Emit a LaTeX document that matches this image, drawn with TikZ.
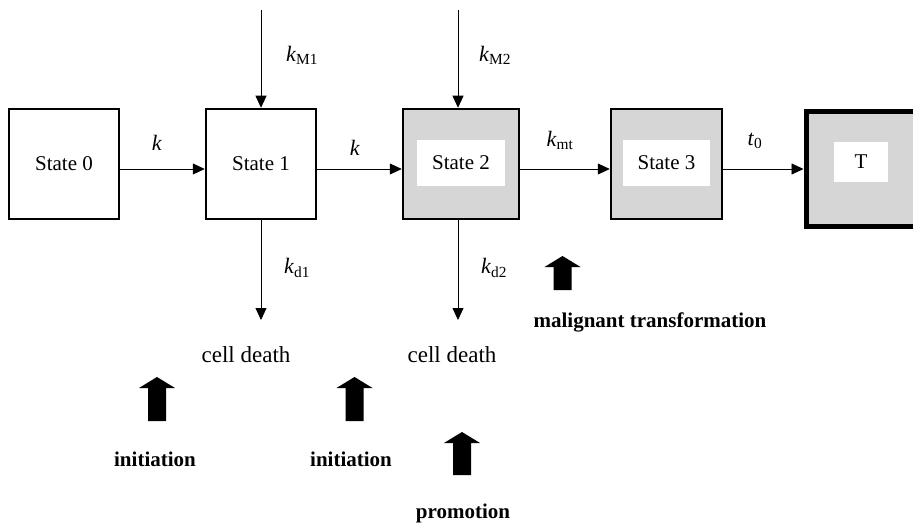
\documentclass[tikz,border=0pt]{standalone}
\usepackage{fontspec}
\setmainfont{Liberation Serif}
\usetikzlibrary{positioning,arrows.meta}

\begin{document}
\begin{tikzpicture}[
    x=1pt, y=-1pt,
    font=\fontsize{21}{25}\selectfont,
    state/.style={
        rectangle, draw, line width=2.5pt, minimum width=110pt,
        minimum height=110pt, inner sep=0pt
    },
    shaded/.style={state, fill=black!16},
    tag/.style={fill=white, minimum height=45pt, inner sep=0pt},
    flow/.style={-{Triangle[length=12pt,width=11pt]}, line width=0.8pt},
    rate/.style={inner sep=0pt, font=\fontsize{22}{26}\selectfont},
    stage/.style={inner sep=0pt, font=\fontsize{21}{25}\selectfont\bfseries},
    death/.style={inner sep=0pt, font=\fontsize{23}{27}\selectfont},
    push/.pic={\fill (-9,0) -- (-9,-#1+11) -- (-18,-#1+11) -- (0,-#1)
                 -- (18,-#1+11) -- (9,-#1+11) -- (9,0) -- cycle;}
]
\useasboundingbox (0,0) rectangle (913,524);

% compartments
\node[state]  (s0) at (64,164) {State 0};
\node[state]  (s1) at (261,164) {State 1};
\node[shaded, minimum width=116pt] (s2) at (461,164) {};
\node[tag, minimum width=88pt] (l2) at (461,163) {State 2};
\node[shaded, minimum width=111pt] (s3) at (666.5,164) {};
\node[tag, minimum width=87pt] (l3) at (666.5,163) {State 3};
\node[shaded, line width=5pt, minimum width=114pt, minimum height=114pt] (t) at (863,169) {};
\node[tag, minimum width=54pt, minimum height=40pt] (lt) at (861,162) {T};

% transitions
\draw[flow] ([yshift=-5pt]s0.east) -- ([yshift=-5pt]s1.west);
\draw[flow] ([yshift=-5pt]s1.east) -- ([yshift=-5pt]s2.west);
\draw[flow] ([yshift=-5pt]s2.east) -- ([yshift=-5pt]s3.west);
\draw[flow] ([yshift=-5pt]s3.east) -- (t.west);

\coordinate (m1) at (261,10);
\coordinate (m2) at (458,10);
\draw[flow] (m1) -- (s1.north);
\draw[flow] (m2) -- (m2 |- s2.north);

\coordinate (d1) at (261,320);
\coordinate (d2) at (458,320);
\draw[flow] (s1.south) -- (d1);
\draw[flow] (d2 |- s2.south) -- (d2);

% rates
\node[rate] (k01) at (157,143) {\textit{k}};
\node[rate] (k12) at (355,148) {\textit{k}};
\node[rate] (kmt) at (560,140) {\textit{k}\textsubscript{mt}};
\node[rate] (t0)  at (755,141) {\textit{t}\textsubscript{0}};
\node[rate] (km1) at (302,55) {\textit{k}\textsubscript{M1}};
\node[rate] (km2) at (495,55) {\textit{k}\textsubscript{M2}};
\node[rate] (kd1) at (297,268) {\textit{k}\textsubscript{d1}};
\node[rate] (kd2) at (494,268) {\textit{k}\textsubscript{d2}};

\node[death] (cd1) at (246,355) {cell death};
\node[death] (cd2) at (452,355) {cell death};

% stages
\pic at (157,421) {push=44};
\pic at (354.5,421) {push=44};
\pic at (462,475) {push=43};
\pic at (562.5,290) {push=34};

\node[stage] (ini1) at (155,459) {initiation};
\node[stage] (ini2) at (351,459) {initiation};
\node[stage] (pro)  at (463,513) {promotion};
\node[stage] (mal)  at (650,322) {malignant transformation};
\end{tikzpicture}
\end{document}
